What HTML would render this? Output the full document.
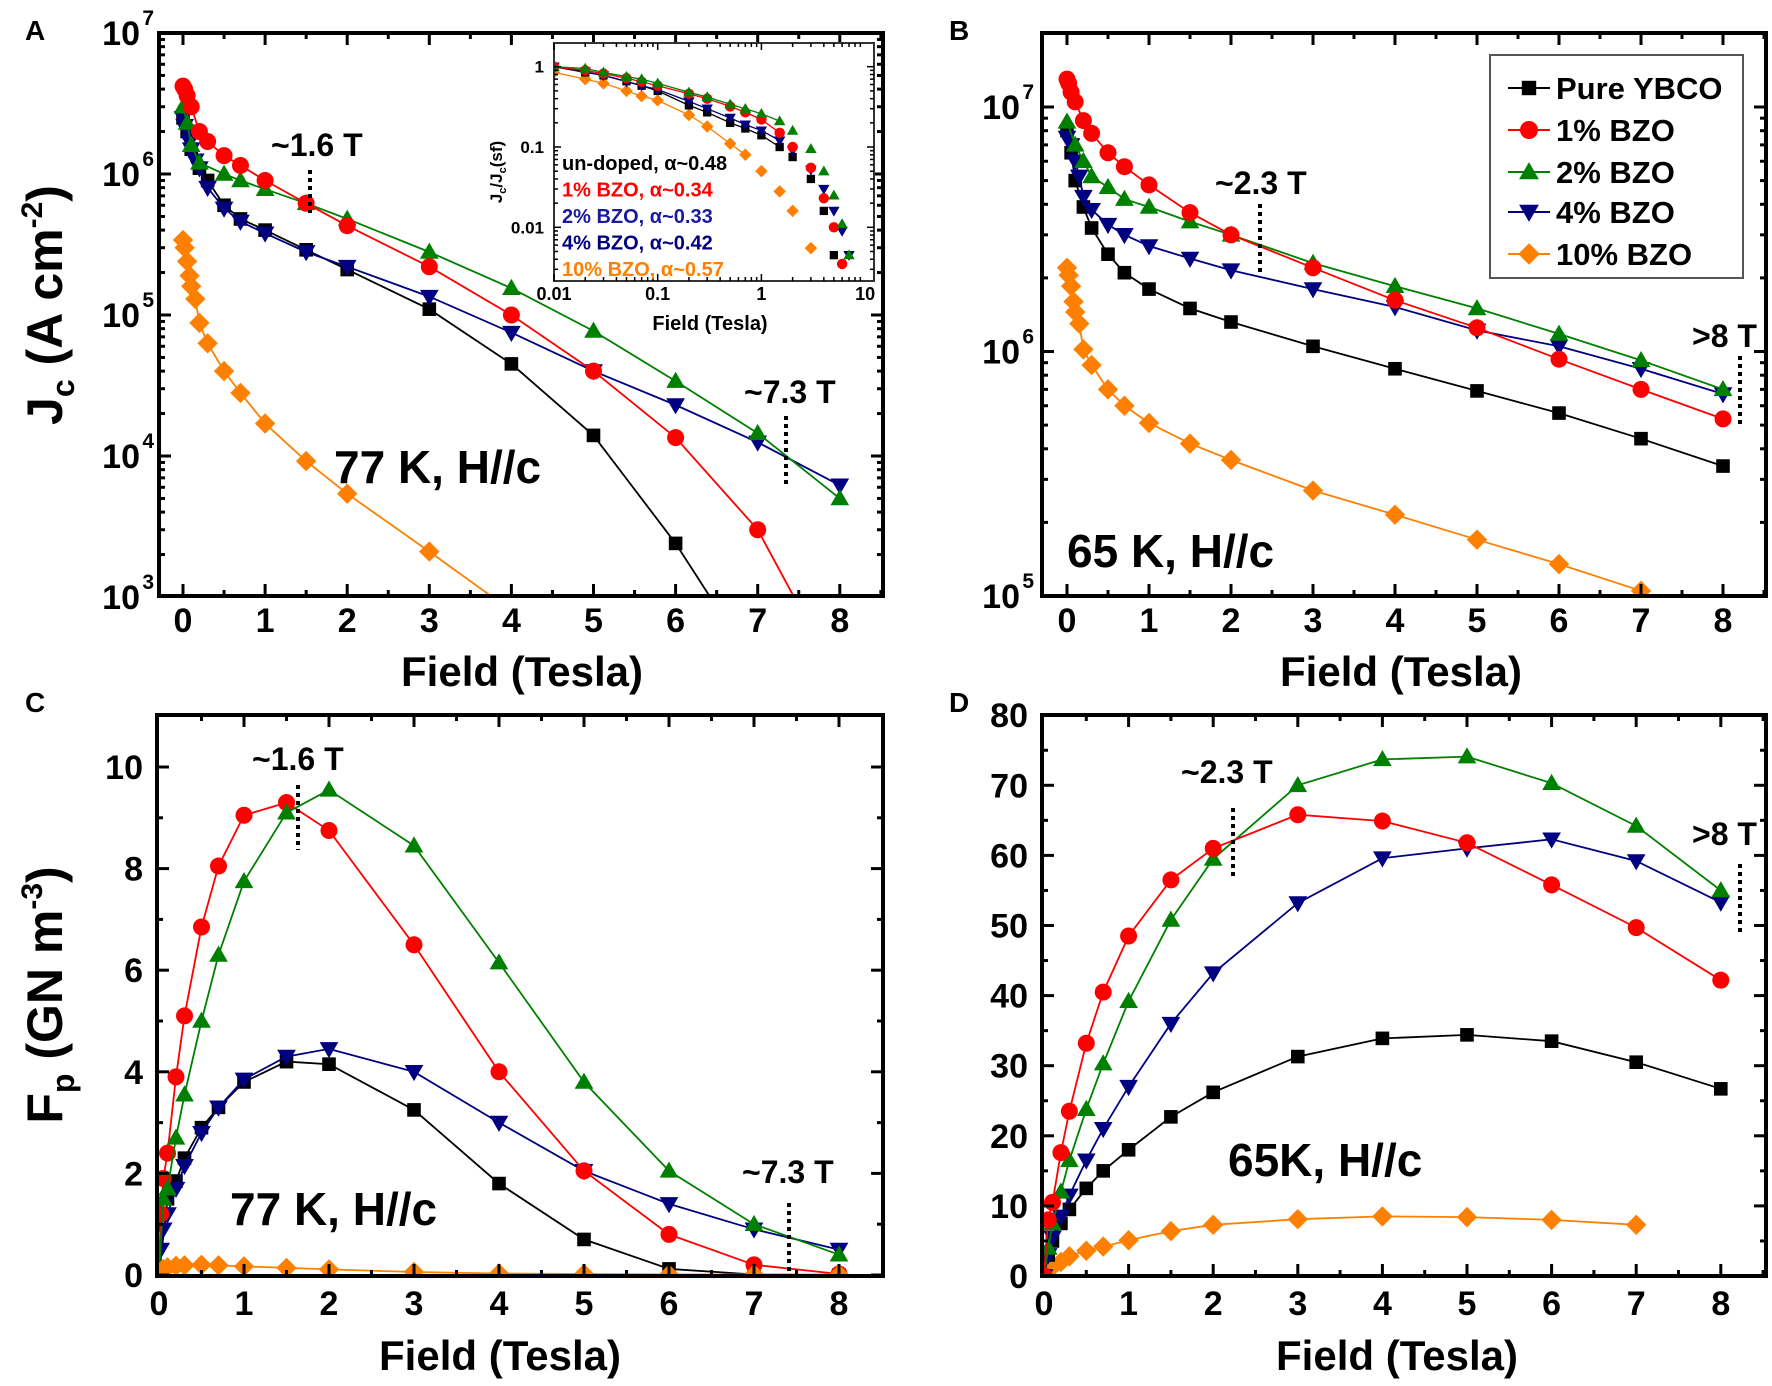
<!DOCTYPE html>
<html><head><meta charset="utf-8"><title>Jc and Fp vs Field</title>
<style>
html,body{margin:0;padding:0;background:#fff;}
svg{display:block;}
text{font-family:"Liberation Sans",Arial,sans-serif;font-weight:bold;fill:#000;}
</style></head>
<body>
<svg id="fig" xmlns="http://www.w3.org/2000/svg" width="1772" height="1386" viewBox="0 0 1772 1386">
<rect x="0" y="0" width="1772" height="1386" fill="#fff"/>
<defs>
<clipPath id="clipA"><rect x="159" y="33" width="724" height="563"/></clipPath>
<clipPath id="clipB"><rect x="1042" y="33" width="724" height="563"/></clipPath>
<clipPath id="clipC"><rect x="157" y="715" width="726" height="561"/></clipPath>
<clipPath id="clipD"><rect x="1042" y="715" width="724" height="561"/></clipPath>
</defs>
<g id="layer"></g>
</svg>
<script>
// ---------- data ----------
var colors = ['#000000','#ff0000','#008000','#000080','#ff8000'];
var seriesNames = ['Pure YBCO','1% BZO','2% BZO','4% BZO','10% BZO'];
var markers = ['square','circle','up','down','diamond'];

// Panel A: 77 K Jc
var aBlackX=[0,0.05,0.1,0.2,0.3,0.5,0.7,1,1.5,2,3,4,5,6,7];
var aBlackY=[2.5e6,2e6,1.5e6,1.1e6,9e5,6e5,4.8e5,4e5,2.9e5,2.1e5,1.1e5,4.5e4,1.4e4,2.4e3,3e2];
var aRedX=[0,0.02,0.05,0.1,0.2,0.3,0.5,0.7,1,1.5,2,3,4,5,6,7,8];
var aRedY=[4.2e6,4e6,3.6e6,3e6,2e6,1.7e6,1.35e6,1.15e6,9e5,6.2e5,4.3e5,2.2e5,1e5,4e4,1.35e4,3e3,2.5e2];
var aGreenX=[0,0.05,0.1,0.2,0.5,0.7,1,1.5,2,3,4,5,6,7,8];
var aGreenY=[3e6,2.3e6,1.6e6,1.2e6,1e6,9e5,7.8e5,6.2e5,4.8e5,2.8e5,1.55e5,7.7e4,3.4e4,1.45e4,5e3];
var aBlueX=[0,0.02,0.05,0.08,0.1,0.15,0.2,0.3,0.5,0.7,1,1.5,2,3,4,5,6,7,8];
var aBlueY=[2.5e6,2.2e6,2e6,1.7e6,1.5e6,1.25e6,1.1e6,8e5,5.7e5,4.6e5,3.8e5,2.8e5,2.2e5,1.35e5,7.5e4,4e4,2.3e4,1.25e4,6.2e3];
var aOrangeX=[0,0.02,0.05,0.08,0.1,0.15,0.2,0.3,0.5,0.7,1,1.5,2,3,4];
var aOrangeY=[3.4e5,3e5,2.4e5,1.9e5,1.6e5,1.3e5,8.8e4,6.3e4,4e4,2.8e4,1.7e4,9.2e3,5.4e3,2.1e3,8e2];

// Panel B: 65 K Jc
var bBlackX=[0,0.05,0.1,0.2,0.3,0.5,0.7,1,1.5,2,3,4,5,6,7,8];
var bBlackY=[8e6,6.5e6,5e6,3.9e6,3.2e6,2.5e6,2.1e6,1.8e6,1.5e6,1.32e6,1.05e6,8.5e5,6.9e5,5.6e5,4.4e5,3.4e5];
var bRedX=[0,0.02,0.05,0.1,0.2,0.3,0.5,0.7,1,1.5,2,3,4,5,6,7,8];
var bRedY=[1.3e7,1.25e7,1.15e7,1.05e7,8.8e6,7.8e6,6.5e6,5.7e6,4.8e6,3.7e6,3e6,2.2e6,1.62e6,1.25e6,9.3e5,7e5,5.3e5];
var bGreenX=[0,0.1,0.2,0.3,0.5,0.7,1,1.5,2,3,4,5,6,7,8];
var bGreenY=[8.7e6,7e6,6e6,5.2e6,4.7e6,4.2e6,3.9e6,3.4e6,3e6,2.3e6,1.85e6,1.5e6,1.18e6,9.2e5,7e5];
var bBlueX=[0,0.05,0.1,0.15,0.2,0.3,0.5,0.7,1,1.5,2,3,4,5,6,7,8];
var bBlueY=[7.5e6,7e6,6e6,5.2e6,4.3e6,3.8e6,3.3e6,3e6,2.7e6,2.4e6,2.15e6,1.8e6,1.52e6,1.22e6,1.05e6,8.5e5,6.7e5];
var bOrangeX=[0,0.02,0.05,0.08,0.1,0.15,0.2,0.3,0.5,0.7,1,1.5,2,3,4,5,6,7];
var bOrangeY=[2.2e6,2.05e6,1.85e6,1.6e6,1.45e6,1.3e6,1.02e6,8.8e5,7e5,6e5,5.1e5,4.2e5,3.6e5,2.7e5,2.15e5,1.7e5,1.35e5,1.05e5];

// Panel C: 77 K Fp
var cBlackX=[0,0.1,0.2,0.3,0.5,0.7,1,1.5,2,3,4,5,6,7,8];
var cBlackY=[0,1.5,1.85,2.3,2.9,3.3,3.8,4.2,4.15,3.25,1.8,0.7,0.12,0.01,0];
var cRedX=[0,0.02,0.05,0.1,0.2,0.3,0.5,0.7,1,1.5,2,3,4,5,6,7,8];
var cRedY=[0,1.2,1.9,2.4,3.9,5.1,6.85,8.05,9.05,9.3,8.75,6.5,4,2.05,0.8,0.2,0.02];
var cGreenX=[0,0.05,0.1,0.2,0.3,0.5,0.7,1,1.5,2,3,4,5,6,7,8];
var cGreenY=[0,1.5,1.7,2.7,3.55,5.0,6.3,7.75,9.1,9.55,8.45,6.15,3.8,2.05,1.0,0.4];
var cBlueX=[0,0.02,0.05,0.1,0.2,0.3,0.5,0.7,1,1.5,2,3,4,5,6,7,8];
var cBlueY=[0,0.5,0.9,1.2,1.7,2.15,2.8,3.3,3.85,4.3,4.45,4.0,3.0,2.05,1.4,0.9,0.5];
var cOrangeX=[0,0.05,0.1,0.2,0.3,0.5,0.7,1,1.5,2,3,4,5,6,7,8];
var cOrangeY=[0,0.12,0.15,0.18,0.19,0.2,0.19,0.17,0.14,0.11,0.06,0.03,0.02,0.01,0.01,0.01];

// Panel D: 65 K Fp
var dBlackX=[0,0.05,0.1,0.2,0.3,0.5,0.7,1,1.5,2,3,4,5,6,7,8];
var dBlackY=[0,3,5,7.5,9.5,12.5,15,18,22.7,26.2,31.3,33.9,34.4,33.5,30.5,26.7];
var dRedX=[0,0.05,0.1,0.2,0.3,0.5,0.7,1,1.5,2,3,4,5,6,7,8];
var dRedY=[0,8,10.5,17.6,23.5,33.2,40.5,48.5,56.5,61,65.8,64.9,61.8,55.8,49.7,42.2];
var dGreenX=[0,0.05,0.1,0.2,0.3,0.5,0.7,1,1.5,2,3,4,5,6,7,8];
var dGreenY=[0,4,7.5,12,16.5,23.8,30.3,39.2,50.8,59.5,70,73.7,74.1,70.3,64.2,55];
var dBlueX=[0,0.05,0.1,0.2,0.3,0.5,0.7,1,1.5,2,3,4,5,6,7,8];
var dBlueY=[0,3,5.5,8.5,11.5,16.5,21,27,36,43.2,53.2,59.6,61,62.3,59.2,53.3];
var dOrangeX=[0,0.05,0.1,0.2,0.3,0.5,0.7,1,1.5,2,3,4,5,6,7];
var dOrangeY=[0,0.8,1.3,2,2.8,3.6,4.2,5.1,6.4,7.3,8.1,8.5,8.4,8,7.3];

// Inset: normalized Jc, log-log
var insetX=[0.01,0.02,0.03,0.05,0.07,0.1,0.2,0.3,0.5,0.7,1,1.5,2,3,4,5,6,7,8];
var insetBlack=[1,0.85,0.78,0.66,0.58,0.5,0.33,0.27,0.2,0.17,0.14,0.1,0.075,0.04,0.016,0.0045,null,null,null];
var insetRed=[1,0.9,0.82,0.72,0.65,0.58,0.46,0.4,0.32,0.27,0.22,0.15,0.1,0.055,0.023,0.01,0.0035,null,null];
var insetGreen=[1,0.95,0.85,0.75,0.7,0.62,0.48,0.42,0.34,0.3,0.26,0.21,0.16,0.095,0.05,0.025,0.011,0.0045,null];
var insetBlue=[1,0.87,0.78,0.65,0.58,0.52,0.37,0.3,0.23,0.19,0.16,0.12,0.09,0.052,0.03,0.016,0.009,0.0045,0.0017];
var insetOrange=[0.85,0.7,0.62,0.5,0.43,0.38,0.25,0.18,0.11,0.08,0.05,0.028,0.016,0.0055,0.0016,null,null,null,null];
var insetFitEnd=[1.5,1.5,1.5,1.5,0.7];
var insetLabels=['un-doped, \u03b1~0.48','1% BZO, \u03b1~0.34','2% BZO, \u03b1~0.33','4% BZO, \u03b1~0.42','10% BZO, \u03b1~0.57'];
var insetLabelColors=['#000000','#ff0000','#1a1aa0','#000080','#ff8000'];

var xTicks=[0,1,2,3,4,5,6,7,8];
var logTicksA=[3,4,5,6,7];
var logTicksB=[5,6,7];
var linTicksC=[0,2,4,6,8,10];
var linTicksD=[0,10,20,30,40,50,60,70,80];

// ---------- helpers ----------
var NS='http://www.w3.org/2000/svg';
var layer=document.getElementById('layer');
function mk(tag,attrs,parent){var e=document.createElementNS(NS,tag);for(var k in attrs)e.setAttribute(k,attrs[k]);(parent||layer).appendChild(e);return e;}
function txt(s,x,y,size,anchor,parent,fill){var e=mk('text',{x:x,y:y,'font-size':size,'text-anchor':anchor||'start'},parent);if(fill)e.style.fill=fill;e.textContent=s;return e;}
function log10(v){return Math.log(v)/Math.LN10;}

function marker(g,type,x,y,s,col){
  var e;
  if(type==='square') e=mk('rect',{x:x-s*0.8,y:y-s*0.8,width:s*1.6,height:s*1.6,fill:col},g);
  else if(type==='circle') e=mk('circle',{cx:x,cy:y,r:s,fill:col},g);
  else if(type==='up') e=mk('polygon',{points:(x)+','+(y-s*1.1)+' '+(x+s*1.1)+','+(y+s*0.8)+' '+(x-s*1.1)+','+(y+s*0.8),fill:col},g);
  else if(type==='down') e=mk('polygon',{points:(x)+','+(y+s*1.1)+' '+(x+s*1.1)+','+(y-s*0.8)+' '+(x-s*1.1)+','+(y-s*0.8),fill:col},g);
  else e=mk('polygon',{points:x+','+(y-s*1.2)+' '+(x+s*1.2)+','+y+' '+x+','+(y+s*1.2)+' '+(x-s*1.2)+','+y,fill:col},g);
  return e;
}

function drawSeries(g,xs,ys,sx,sy,idx,size,clip){
  var sg=mk('g',{'clip-path':clip?'url(#'+clip+')':''},g);
  
  
  var pts=[];
  for(var i=0;i<xs.length;i++){ if(ys[i]===null) continue; pts.push(sx(xs[i]).toFixed(1)+','+sy(ys[i]).toFixed(1)); }
  var pl=mk('polyline',{points:pts.join(' '),fill:'none',stroke:colors[idx],'stroke-width':1.8},sg);
  
  
  for(var j=0;j<xs.length;j++){
    if(ys[j]===null) continue;
    var m=marker(sg,markers[idx],sx(xs[j]),sy(ys[j]),size,colors[idx]);
    
    
  }
}

function frame(g,x0,y0,x1,y1,w){
  var r=mk('rect',{x:x0,y:y0,width:x1-x0,height:y1-y0,fill:'none',stroke:'#000','stroke-width':w||4},g);
  
  
}
function vtick(g,x,y0,y1,len){mk('line',{x1:x,y1:y1,x2:x,y2:y1-len,stroke:'#000','stroke-width':3},g);mk('line',{x1:x,y1:y0,x2:x,y2:y0+len,stroke:'#000','stroke-width':3},g);}
function htick(g,y,x0,x1,len){mk('line',{x1:x0,y1:y,x2:x0+len,y2:y,stroke:'#000','stroke-width':3},g);mk('line',{x1:x1,y1:y,x2:x1-len,y2:y,stroke:'#000','stroke-width':3},g);}

function xAxis(g,sx,box,labelY,xmin){
  for(var t=0;t<=8.5;t+=0.5){ if(t<xmin) continue; var x=sx(t); if(x>box[2]-2) continue; vtick(g,x,box[1],box[3],(t%1===0)?12:6);}
  xTicks.forEach(function(t){var e=txt(String(t),sx(t),labelY,34,'middle',g);});
}
function logYAxis(g,sy,box,exps,labelX){
  var lo=exps[0],hi=exps[exps.length-1];
  for(var d=lo;d<=hi+1;d++){
    for(var m=1;m<10;m++){var v=m*Math.pow(10,d);var y=sy(v);if(y<box[1]+2||y>box[3])continue;htick(g,y,box[0],box[2],m===1?12:6);}
  }
  exps.forEach(function(e){
    var y=sy(Math.pow(10,e));
    var t=mk('text',{x:labelX,y:y+12,'font-size':34,'text-anchor':'end'},g);
    
    
    t.textContent='10';
    var s=mk('text',{x:labelX+14,y:y-8,'font-size':21,'text-anchor':'end'},g);
    
    
    s.textContent=String(e);
  });
}
function linYAxis(g,sy,box,ticks,minorStep,labelX){
  var top=ticks[ticks.length-1]+minorStep*2;
  var major=ticks[1]-ticks[0];
  for(var v=0;v<=top;v+=minorStep){var y=sy(v);if(y<box[1]+2||y>box[3]-1)continue;htick(g,y,box[0],box[2],(Math.abs(v/major-Math.round(v/major))<1e-6)?12:6);}
  ticks.forEach(function(v){var e=txt(String(v),labelX,sy(v)+12,34,'end',g);});
}
function dotted(g,x,y0,y1){var l=mk('line',{x1:x,y1:y0,x2:x,y2:y1,stroke:'#000','stroke-width':4,'stroke-dasharray':'4,4'},g);}
function annot(g,s,x,y,size,name){var e=txt(s,x,y,size,'start',g);return e;}

// ---------- Panel A ----------
(function(){
  var g=mk('g',{});
  
  
  var box=[159,33,883,596];
  var sx=function(v){return 183+82.1*v;};
  var sy=function(v){return 33+141*(7-log10(v));};
  var sets=[[aBlackX,aBlackY],[aRedX,aRedY],[aGreenX,aGreenY],[aBlueX,aBlueY],[aOrangeX,aOrangeY]];
  [4,0,3,2,1].forEach(function(i){drawSeries(g,sets[i][0],sets[i][1],sx,sy,i,8.5,'clipA');});
  frame(g,box[0],box[1],box[2],box[3]);
  xAxis(g,sx,box,632,0);
  logYAxis(g,sy,box,logTicksA,140);
  annot(g,'A',25,40,28,'panel-label-a');
  var xt=txt('Field (Tesla)',522,686,42,'middle',g);
  var yt=mk('text',{x:0,y:0,'font-size':50,'text-anchor':'middle',transform:'translate(62,305) rotate(-90)'},g);
  
  yt.innerHTML='J<tspan font-size="32" dy="12">c</tspan><tspan dy="-12"> (A cm</tspan><tspan font-size="30" dy="-20">-2</tspan><tspan dy="20">)</tspan>';
  annot(g,'~1.6 T',271,156,32,'annotation-1-6t');
  dotted(g,310,170,213);
  annot(g,'~7.3 T',744,403,32,'annotation-7-3t');
  dotted(g,786,416,488);
  annot(g,'77 K, H//c',334,483,46,'condition-label');

  // inset
  var ig=mk('g',{},g);
  
  
  var ib=[554,43,874,281];
  mk('rect',{x:ib[0],y:ib[1],width:ib[2]-ib[0],height:ib[3]-ib[1],fill:'#fff'},ig);
  var isx=function(v){return 554+103.7*(log10(v)+2);};
  var isy=function(v){return 66.7+80.3*(-log10(v));};
  var icp=mk('clipPath',{id:'clipI'},ig);mk('rect',{x:ib[0],y:ib[1],width:ib[2]-ib[0],height:ib[3]-ib[1]},icp);
  var iset=[insetBlack,insetRed,insetGreen,insetBlue,insetOrange];
  [4,0,3,1,2].forEach(function(i){
    var sg=mk('g',{'clip-path':'url(#clipI)'},ig);
    
    
    var pts=[];
    for(var k=0;k<insetX.length;k++){ if(iset[i][k]===null||insetX[k]>insetFitEnd[i])continue; pts.push(isx(insetX[k]).toFixed(1)+','+isy(iset[i][k]).toFixed(1)); }
    mk('polyline',{points:pts.join(' '),fill:'none',stroke:colors[i],'stroke-width':1.3},sg);
    for(var k2=0;k2<insetX.length;k2++){ if(iset[i][k2]===null)continue; var m=marker(sg,markers[i],isx(insetX[k2]),isy(iset[i][k2]),5.2,colors[i]);   }
  });
  mk('rect',{x:ib[0],y:ib[1],width:ib[2]-ib[0],height:ib[3]-ib[1],fill:'none',stroke:'#333','stroke-width':2},ig);
  for(var d=-2;d<1;d++){for(var m=1;m<10;m++){var x=isx(m*Math.pow(10,d));if(x>ib[2])continue;mk('line',{x1:x,y1:ib[3],x2:x,y2:ib[3]-(m===1?7:4),stroke:'#000','stroke-width':1.5},ig);mk('line',{x1:x,y1:ib[1],x2:x,y2:ib[1]+(m===1?7:4),stroke:'#000','stroke-width':1.5},ig);}}
  for(var d2=-3;d2<1;d2++){for(var m2=1;m2<10;m2++){var y=isy(m2*Math.pow(10,d2));if(y>ib[3]||y<ib[1])continue;mk('line',{x1:ib[0],y1:y,x2:ib[0]+(m2===1?7:4),y2:y,stroke:'#000','stroke-width':1.5},ig);mk('line',{x1:ib[2],y1:y,x2:ib[2]-(m2===1?7:4),y2:y,stroke:'#000','stroke-width':1.5},ig);}}
  [['0.01',0.01],['0.1',0.1],['1',1],['10',10]].forEach(function(p){var e=txt(p[0],isx(p[1]),300,18,'middle',ig);});
  [['1',1],['0.1',0.1],['0.01',0.01]].forEach(function(p){var e=txt(p[0],544,isy(p[1])+6,17,'end',ig);});
  var ixt=txt('Field (Tesla)',710,330,20,'middle',ig);
  var iyt=mk('text',{x:0,y:0,'font-size':17,'text-anchor':'middle',transform:'translate(502,172) rotate(-90)'},ig);
  
  iyt.innerHTML='J<tspan font-size="11" dy="4">c</tspan><tspan dy="-4">/J</tspan><tspan font-size="11" dy="4">c</tspan><tspan dy="-4">(sf)</tspan>';
  insetLabels.forEach(function(s,i){var e=txt(s,562,170+26.5*i,20,'start',ig,insetLabelColors[i]);});
})();

// ---------- Panel B ----------
(function(){
  var g=mk('g',{});
  
  
  var box=[1042,33,1766,596];
  var sx=function(v){return 1067+82*v;};
  var sy=function(v){return 107+244.5*(7-log10(v));};
  var sets=[[bBlackX,bBlackY],[bRedX,bRedY],[bGreenX,bGreenY],[bBlueX,bBlueY],[bOrangeX,bOrangeY]];
  [4,0,3,2,1].forEach(function(i){drawSeries(g,sets[i][0],sets[i][1],sx,sy,i,8.5,'clipB');});
  frame(g,box[0],box[1],box[2],box[3]);
  xAxis(g,sx,box,632,0);
  logYAxis(g,sy,box,logTicksB,1020);
  annot(g,'B',949,40,28,'panel-label-b');
  var xt=txt('Field (Tesla)',1401,686,42,'middle',g);
  annot(g,'~2.3 T',1215,194,32,'annotation-2-3t');
  dotted(g,1260,204,275);
  annot(g,'>8 T',1692,347,32,'annotation-8t');
  dotted(g,1740,356,427);
  annot(g,'65 K, H//c',1067,567,46,'condition-label');
  var lg=mk('g',{},g);
  
  
  mk('rect',{x:1490,y:55,width:253,height:223,fill:'#fff',stroke:'#555','stroke-width':2},lg);
  var ly=[88,130,172,212,254];
  seriesNames.forEach(function(n,i){
    var eg=mk('g',{},lg);
    
    
    mk('line',{x1:1508,y1:ly[i],x2:1550,y2:ly[i],stroke:colors[i],'stroke-width':2},eg);
    marker(eg,markers[i],1529,ly[i],9,colors[i]);
    txt(n,1556,ly[i]+11,31,'start',eg);
  });
})();

// ---------- Panel C ----------
(function(){
  var g=mk('g',{});
  
  
  var box=[157,715,883,1276];
  var sx=function(v){return 159+85*v;};
  var sy=function(v){return 1275-50.8*v;};
  var sets=[[cBlackX,cBlackY],[cRedX,cRedY],[cGreenX,cGreenY],[cBlueX,cBlueY],[cOrangeX,cOrangeY]];
  [0,3,1,2,4].forEach(function(i){drawSeries(g,sets[i][0],sets[i][1],sx,sy,i,8.5,'clipC');});
  frame(g,box[0],box[1],box[2],box[3]);
  xAxis(g,sx,box,1315,0.5);
  linYAxis(g,sy,box,linTicksC,1,143);
  annot(g,'C',25,712,28,'panel-label-c');
  var xt=txt('Field (Tesla)',500,1370,42,'middle',g);
  var yt=mk('text',{x:0,y:0,'font-size':50,'text-anchor':'middle',transform:'translate(62,995) rotate(-90)'},g);
  
  yt.innerHTML='F<tspan font-size="32" dy="12">p</tspan><tspan dy="-12"> (GN m</tspan><tspan font-size="30" dy="-20">-3</tspan><tspan dy="20">)</tspan>';
  annot(g,'~1.6 T',252,770,32,'annotation-1-6t');
  dotted(g,298,785,850);
  annot(g,'~7.3 T',742,1183,32,'annotation-7-3t');
  dotted(g,789,1203,1271);
  annot(g,'77 K, H//c',230,1225,46,'condition-label');
})();

// ---------- Panel D ----------
(function(){
  var g=mk('g',{});
  
  
  var box=[1042,715,1766,1276];
  var sx=function(v){return 1044+84.6*v;};
  var sy=function(v){return 1276-7.01*v;};
  var sets=[[dBlackX,dBlackY],[dRedX,dRedY],[dGreenX,dGreenY],[dBlueX,dBlueY],[dOrangeX,dOrangeY]];
  [4,0,3,2,1].forEach(function(i){drawSeries(g,sets[i][0],sets[i][1],sx,sy,i,8.5,'clipD');});
  frame(g,box[0],box[1],box[2],box[3]);
  xAxis(g,sx,box,1315,0.5);
  linYAxis(g,sy,box,linTicksD,5,1028);
  annot(g,'D',949,712,28,'panel-label-d');
  var xt=txt('Field (Tesla)',1397,1370,42,'middle',g);
  annot(g,'~2.3 T',1181,783,32,'annotation-2-3t');
  dotted(g,1233,808,876);
  annot(g,'>8 T',1692,845,32,'annotation-8t');
  dotted(g,1740,864,932);
  annot(g,'65K, H//c',1228,1176,46,'condition-label');
})();
</script>
</body></html>
